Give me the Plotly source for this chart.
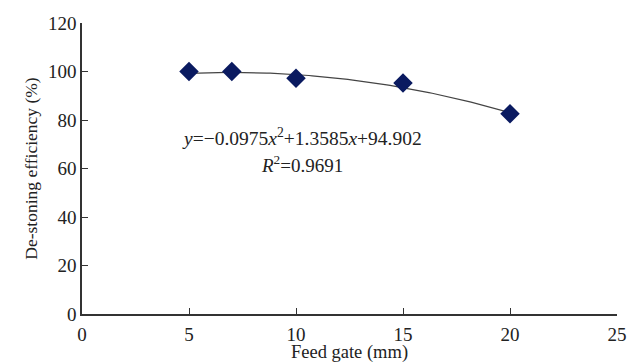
import numpy as np
import plotly.graph_objects as go

feed_gate = [5, 7, 10, 15, 20]
efficiency = [100, 100, 97.2, 95.3, 82.6]
coef = [-0.0975, 1.3585, 94.902]  # quadratic trendline coefficients
r2 = 0.9691

xs = np.linspace(min(feed_gate), max(feed_gate), 100)
ys = coef[0] * xs**2 + coef[1] * xs + coef[2]

font = "Liberation Serif, Times New Roman, serif"

fig = go.Figure()
fig.add_trace(go.Scatter(x=xs, y=ys, mode="lines",
                         line=dict(color="#444444", width=1.2),
                         hoverinfo="skip", showlegend=False))
fig.add_trace(go.Scatter(x=feed_gate, y=efficiency, mode="markers",
                         marker=dict(symbol="diamond", size=15, color="#0a1a60",
                                     line=dict(width=0)),
                         showlegend=False))

fig.add_annotation(x=10.3, y=73.0, xref="x", yref="y", showarrow=False,
                   text="<i>y</i>=\u22120.0975<i>x</i><sup>2</sup>+1.3585<i>x</i>+94.902",
                   font=dict(family=font, size=19.5, color="#222222"))
fig.add_annotation(x=10.3, y=62.0, xref="x", yref="y", showarrow=False,
                   text="<i>R</i><sup>2</sup>=" + f"{r2}",
                   font=dict(family=font, size=19, color="#222222"))

fig.update_layout(
    width=640, height=363,
    margin=dict(l=82, r=23, t=23, b=49),
    paper_bgcolor="white", plot_bgcolor="white",
    font=dict(family=font, size=19, color="#222222"),
)
fig.update_xaxes(range=[0, 25], tickvals=[0, 5, 10, 15, 20, 25],
                 showline=True, linecolor="#333333", linewidth=1.5,
                 ticks="inside", ticklen=6, tickcolor="#333333",
                 ticklabelstandoff=2, automargin=False,
                 showgrid=False, zeroline=False,
                 title=dict(text="Feed gate (mm)", standoff=2,
                            font=dict(family=font, size=18.5)))
fig.update_yaxes(range=[0, 120], tickvals=[0, 20, 40, 60, 80, 100, 120],
                 showline=True, linecolor="#333333", linewidth=1.5,
                 ticks="inside", ticklen=6, tickcolor="#333333",
                 automargin=False,
                 showgrid=False, zeroline=False,
                 title=dict(text="De-stoning efficiency (%)", standoff=6,
                            font=dict(family=font, size=17.5)))

fig.write_html("out.html")
